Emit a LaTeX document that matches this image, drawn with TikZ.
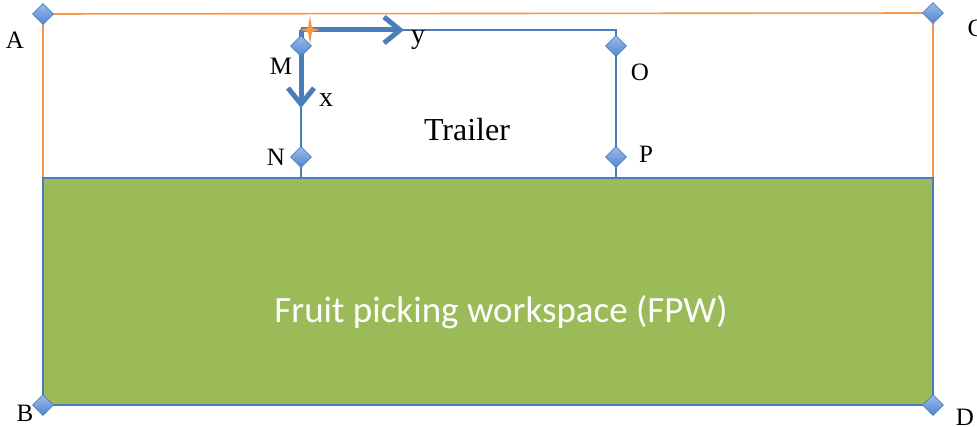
\documentclass[tikz,border=0pt]{standalone}
\usepackage{fontspec}
\setmainfont{Liberation Serif}
\newfontfamily\calfont{Carlito}
\usetikzlibrary{shapes.geometric, arrows.meta, positioning}

\definecolor{edgeblue}{HTML}{4A7EBB}
\definecolor{knotblue}{HTML}{4F86CF}
\definecolor{knotlight}{HTML}{9DBCE8}
\definecolor{rimorange}{HTML}{F79646}
\definecolor{fieldgreen}{HTML}{9BBB59}

\begin{document}
\begin{tikzpicture}[x=1pt, y=-1pt,
    knot/.style={diamond, minimum width=21pt, minimum height=21pt, inner sep=0pt,
        top color=knotlight, bottom color=knotblue, draw=edgeblue, line width=0.6pt},
    rim/.style={rimorange, line width=1.6pt},
    frame/.style={edgeblue, line width=1.8pt},
    axis/.style={edgeblue, line width=5pt, -{Straight Barb[length=16pt, width=26pt, line width=5pt]}},
    lab/.style={font=\fontsize{25}{28}\selectfont, inner sep=0pt}]
    \useasboundingbox (0,0) rectangle (977,427);

    % Corner points
    \coordinate (A) at (43,14);
    \coordinate (C) at (933,13);
    \coordinate (B) at (43,405);
    \coordinate (D) at (933,405);
    \coordinate (Al) at (43,178);
    \coordinate (Cl) at (933,178);

    % Trailer points
    \coordinate (org) at (301,30);
    \coordinate (tr) at (616,30);
    \coordinate (M) at (301,46);
    \coordinate (N) at (301,157);
    \coordinate (O) at (616,46);
    \coordinate (P) at (616,157);
    \coordinate (bl) at (301,178);
    \coordinate (br) at (616,178);
    \coordinate (xend) at (301,108);
    \coordinate (yend) at (404,30);

    % Outer orange border
    \draw[rim] (Al) -- (A) -- (C) -- (Cl);

    % Workspace
    \fill[fieldgreen] (Al) rectangle (D);
    \draw[frame] (Al) -- (Cl) -- (D) -- (B) -- cycle;
    \node[text=white, font=\calfont\fontsize{37}{41}\selectfont] (fpw) at (501,312) {Fruit picking workspace (FPW)};

    % Trailer
    \draw[edgeblue, line width=1.8pt] (bl) -- (org) -- (tr) -- (br);
    \node[font=\fontsize{32}{36}\selectfont] (trailer) at (467,130) {Trailer};

    % Axes
    \draw[axis] (org) -- (xend);
    \draw[axis] (org) -- (yend);
    \fill[rimorange] (310,16) -- (312,28) -- (320,30) -- (312,32) -- (310,44) -- (308,32) -- (300,30) -- (308,28) -- cycle;
    \node[lab, font=\fontsize{28}{32}\selectfont] (xlab) at (326,100) {x};
    \node[lab, font=\fontsize{28}{32}\selectfont] (ylab) at (418,40) {y};

    % Diamonds
    \foreach \p in {A,B,C,D,M,N,O,P}
        \node[knot] (k\p) at (\p) {};

    % Point labels
    \node[lab] (lA) at (15,40) {A};
    \node[lab] (lB) at (25,413) {B};
    \node[lab] (lC) at (976,28) {C};
    \node[lab] (lD) at (965,417) {D};
    \node[lab] (lM) at (281,66) {M};
    \node[lab] (lN) at (276,157) {N};
    \node[lab] (lO) at (640,72) {O};
    \node[lab] (lP) at (646,154) {P};
\end{tikzpicture}
\end{document}
